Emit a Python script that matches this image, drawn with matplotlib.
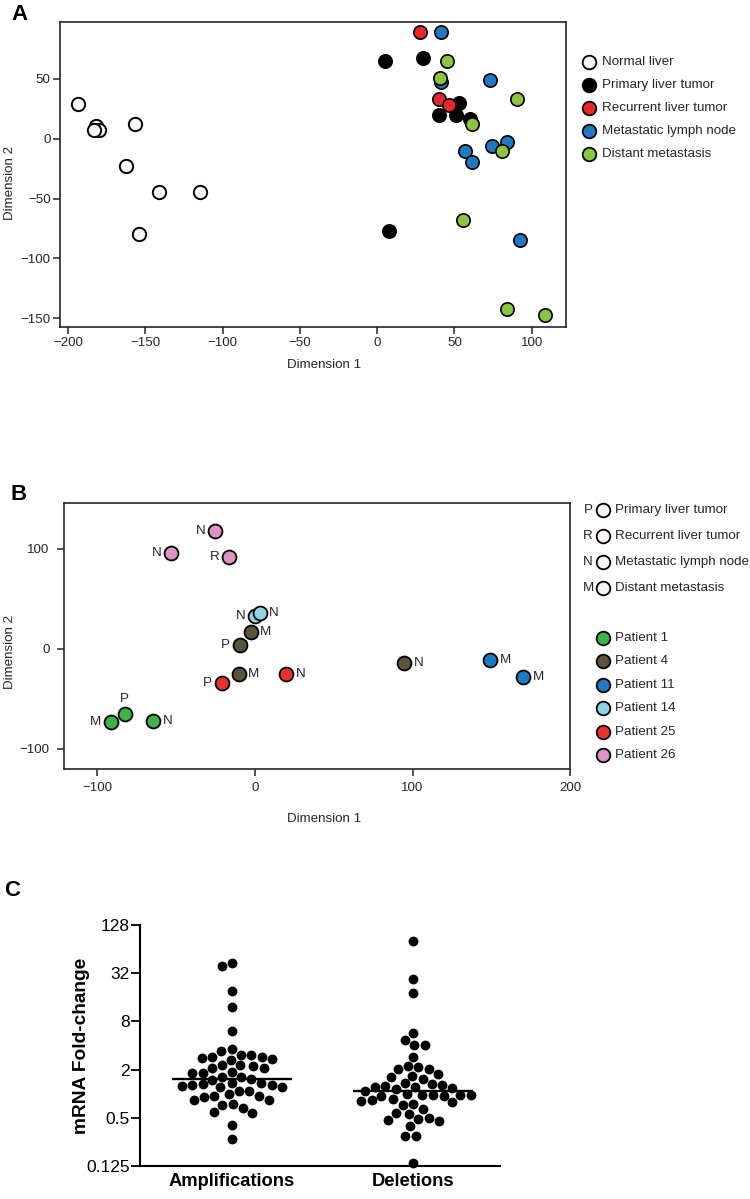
import numpy as np
import matplotlib
matplotlib.use("Agg")
import matplotlib.pyplot as plt
from matplotlib.lines import Line2D
from matplotlib.ticker import NullLocator

plt.rcParams['font.family'] = ['Liberation Sans', 'DejaVu Sans']

W, H = 750, 1199

# ---------------- Panel A data ----------------
a_groups = ["Normal liver", "Primary liver tumor", "Recurrent liver tumor",
            "Metastatic lymph node", "Distant metastasis"]
a_normal_x = [-193.4, -182.1, -179.8, -183.4, -156.8, -162.8, -141.3, -114.6, -154.4]
a_normal_y = [29.2, 10.3, 6.9, 6.9, 12.5, -22.8, -44.9, -44.9, -79.6]
a_primary_x = [5.2, 29.8, 52.9, 40.3, 50.8, 59.8, 7.9]
a_primary_y = [64.9, 67.0, 29.6, 20.0, 20.0, 16.0, -76.9]
a_recurrent_x = [27.5, 40.2, 46.4]
a_recurrent_y = [89.4, 33.4, 27.7]
a_lymph_x = [41.5, 41.1, 73.3, 84.1, 74.0, 57.0, 61.5, 92.5]
a_lymph_y = [89.1, 47.4, 49.0, -2.8, -5.8, -10.0, -19.8, -85.0]
a_distant_x = [45.4, 40.4, 90.3, 61.5, 80.9, 55.3, 84.1, 108.8]
a_distant_y = [64.9, 50.7, 33.4, 12.5, -10.3, -67.9, -142.0, -147.3]
a_xticks = [-200, -150, -100, -50, 0, 50, 100]
a_yticks = [-150, -100, -50, 0, 50]

# ---------------- Panel B data ----------------
b_type_letters = ["P", "R", "N", "M"]
b_type_names = ["Primary liver tumor", "Recurrent liver tumor",
                "Metastatic lymph node", "Distant metastasis"]
b_patients = ["Patient 1", "Patient 4", "Patient 11", "Patient 14", "Patient 25", "Patient 26"]
b_p1_x = [-82.5, -91.4, -64.6]
b_p1_y = [-65.1, -73.7, -72.1]
b_p1_lab = ["P", "M", "N"]
b_p4_x = [-9.6, -2.5, -10.1, 94.7]
b_p4_y = [3.3, 16.6, -25.4, -14.1]
b_p4_lab = ["P", "M", "M", "N"]
b_p11_x = [149.4, 170.3]
b_p11_y = [-11.4, -28.7]
b_p11_lab = ["M", "M"]
b_p14_x = [0.1, 3.2]
b_p14_y = [32.9, 35.3]
b_p14_lab = ["N", "N"]
b_p25_x = [-20.8, 20.0]
b_p25_y = [-34.7, -25.4]
b_p25_lab = ["P", "N"]
b_p26_x = [-25.3, -53.2, -16.2]
b_p26_y = [117.3, 95.6, 91.9]
b_p26_lab = ["N", "N", "R"]
b_xticks = [-100, 0, 100, 200]
b_yticks = [-100, 0, 100]

# ---------------- Panel C data ----------------
c_categories = ["Amplifications", "Deletions"]
c_amp = [43.3, 39.4, 19.2, 12.0, 6.12, 3.62, 3.07, 2.90, 2.79, 3.38, 3.02, 2.85,
         2.66, 2.74, 2.26, 2.24, 2.11, 1.83, 1.80, 1.88, 2.11, 2.26, 1.62, 1.50,
         1.51, 1.63, 1.35, 1.30, 1.24, 1.21, 1.22, 1.27, 1.31, 1.37, 1.09, 1.07,
         0.98, 0.94, 0.83, 0.83, 0.92, 0.94, 0.74, 0.72, 0.66, 0.57, 0.59, 0.41, 0.27]
c_del = [80.8, 26.9, 18.1, 5.78, 4.73, 4.02, 4.02, 2.90, 2.24, 2.05, 2.05, 2.14,
         1.76, 1.66, 1.53, 1.60, 1.31, 1.28, 1.35, 1.25, 1.22, 1.14, 1.17, 1.22,
         1.07, 0.98, 0.97, 0.955, 0.94, 0.944, 0.955, 0.97, 0.83, 0.78, 0.73, 0.74,
         0.81, 0.85, 0.64, 0.56, 0.48, 0.46, 0.47, 0.50, 0.58, 0.39, 0.30, 0.30, 0.138]
c_yticks = [0.125, 0.5, 2, 8, 32, 128]
c_yticklabels = ["0.125", "0.5", "2", "8", "32", "128"]

# ---------------- styles ----------------
a_colors = ["#fcf4f4", "#000000", "#e8262b", "#1f78c1", "#8cc63f"]
b_colors = ["#3bb54a", "#5a543e", "#1f7bc1", "#92d4e6", "#e8322a", "#dc94c4"]
b_label_side = [["top", "left", "right"], ["left", "right", "right", "right"],
                ["right", "right"], ["left", "right"], ["left", "right"],
                ["left", "left", "left"]]
INK = "#262626"
FS = 9.6

fig = plt.figure(figsize=(W / 100, H / 100), dpi=100)


def fbox(l, t, r, b):
    return [l / W, 1 - b / H, (r - l) / W, (b - t) / H]


def px2fig(x, y):
    return (x / W, 1 - y / H)


def style_box(ax, pad_x, pad_y):
    for s in ax.spines.values():
        s.set_linewidth(1.2)
        s.set_color(INK)
    ax.tick_params(direction='out', length=5, width=1.1, color=INK,
                   labelsize=FS, labelcolor=INK, top=False, right=False)
    ax.tick_params(axis='x', pad=pad_x)
    ax.tick_params(axis='y', pad=pad_y)


def legend_dot(x, y, color, ms=9.8, ew=1.3):
    fx, fy = px2fig(x, y)
    fig.add_artist(Line2D([fx], [fy], marker='o', markersize=ms, linestyle='none',
                          markerfacecolor=color, markeredgecolor='black',
                          markeredgewidth=ew, transform=fig.transFigure))


def legend_text(x, y, s, ha='left'):
    fx, fy = px2fig(x, y)
    fig.text(fx, fy, s, ha=ha, va='center', fontsize=FS, color=INK)


# ================= Panel A =================
axA = fig.add_axes(fbox(60.3, 21.7, 565.7, 327.3))
a_series = [(a_normal_x, a_normal_y, 0), (a_primary_x, a_primary_y, 1),
            (a_lymph_x, a_lymph_y, 3), (a_recurrent_x, a_recurrent_y, 2),
            (a_distant_x, a_distant_y, 4)]
for xs, ys, gi in a_series:
    axA.scatter(xs, ys, s=92, c=a_colors[gi], edgecolors='black',
                linewidths=1.4 if gi == 0 else 1.2, zorder=3 + gi)
axA.set_xlim(-205, 122)
axA.set_ylim(-157.5, 97.6)
axA.set_xticks(a_xticks)
axA.set_yticks(a_yticks)
style_box(axA, 2.0, 2.0)
axA.set_xlabel("Dimension 1", fontsize=FS, color=INK)
axA.set_ylabel("Dimension 2", fontsize=FS, color=INK)
axA.xaxis.set_label_coords(0.522, -0.105)
axA.yaxis.set_label_coords(-0.088, 0.472)

for i, name in enumerate(a_groups):
    y = 62 + i * 23
    legend_dot(589, y, a_colors[i])
    legend_text(601.5, y, name)

fig.text(*px2fig(11, 15), "A", fontsize=16, fontweight='bold', va='center', ha='left')

# ================= Panel B =================
axB = fig.add_axes(fbox(64, 503.3, 570.3, 768.7))
b_sets = [(b_p1_x, b_p1_y, b_p1_lab), (b_p4_x, b_p4_y, b_p4_lab),
          (b_p11_x, b_p11_y, b_p11_lab), (b_p14_x, b_p14_y, b_p14_lab),
          (b_p25_x, b_p25_y, b_p25_lab), (b_p26_x, b_p26_y, b_p26_lab)]
for pi, (xs, ys, labs) in enumerate(b_sets):
    for j, (x, y, lab) in enumerate(zip(xs, ys, labs)):
        axB.scatter([x], [y], s=100, c=b_colors[pi], edgecolors='black',
                    linewidths=1.3, zorder=3)
        side = b_label_side[pi][j]
        if side == 'left':
            off, ha, va = (-7.0, 0), 'right', 'center'
        elif side == 'right':
            off, ha, va = (6.8, 0), 'left', 'center'
        else:
            off, ha, va = (0, 10.8), 'center', 'center'
        axB.annotate(lab, (x, y), xytext=off, textcoords='offset points',
                     ha=ha, va=va, fontsize=FS, color=INK, zorder=4)
axB.set_xlim(-121, 200)
axB.set_ylim(-120.1, 145.3)
axB.set_xticks(b_xticks)
axB.set_yticks(b_yticks)
style_box(axB, 4.3, 5.5)
axB.set_xlabel("Dimension 1", fontsize=FS, color=INK)
axB.set_ylabel("Dimension 2", fontsize=FS, color=INK)
axB.xaxis.set_label_coords(0.514, -0.167)
axB.yaxis.set_label_coords(-0.094, 0.441)

for i, (let, name) in enumerate(zip(b_type_letters, b_type_names)):
    y = 510 + i * 26.1
    legend_text(588, y, let, ha='center')
    legend_dot(602.7, y, "#fcf4f4")
    legend_text(615, y, name)
for i, name in enumerate(b_patients):
    y = 638 + i * 23.4
    legend_dot(602.7, y, b_colors[i])
    legend_text(615, y, name)

fig.text(*px2fig(10, 494), "B", fontsize=16, fontweight='bold', va='center', ha='left')

# ================= Panel C =================
axC = fig.add_axes(fbox(140, 925, 500, 1166))
axC.set_yscale('log', base=2)
axC.set_ylim(0.125, 128)
axC.set_xlim(-0.505, 1.477)
axC.set_yticks(c_yticks)
axC.set_yticklabels(c_yticklabels)
axC.yaxis.set_minor_locator(NullLocator())
axC.set_xticks(range(len(c_categories)))
axC.set_xticklabels(c_categories, fontsize=13.2, fontweight='bold')
axC.spines['top'].set_visible(False)
axC.spines['right'].set_visible(False)
for s in ('left', 'bottom'):
    axC.spines[s].set_linewidth(1.5)
axC.tick_params(axis='y', direction='out', length=6.5, width=1.3, labelsize=12.5, pad=0.8)
axC.tick_params(axis='x', length=0, pad=5)
axC.set_ylabel("mRNA Fold-change", fontsize=13.8, fontweight='bold')
axC.yaxis.set_label_coords(-0.14, 0.5)


def swarm_x(ax, xc, vals, d_px):
    vals = np.asarray(vals, float)
    pts = ax.transData.transform(np.column_stack([np.full(len(vals), xc), vals]))
    ys = pts[:, 1]
    order = np.argsort(-ys, kind='stable')
    placed = []
    dxs = np.zeros(len(vals))
    for i in order:
        y = ys[i]
        neigh = [(px, py) for px, py in placed if abs(py - y) < d_px]
        cands = [0.0]
        for px, py in neigh:
            h = np.sqrt(d_px ** 2 - (py - y) ** 2)
            cands += [px + h, px - h]
        cands.sort(key=lambda c: (round(abs(c), 6), c > 0))
        chosen = cands[-1]
        for c in cands:
            if all((c - px) ** 2 + (y - py) ** 2 >= d_px ** 2 - 1e-6 for px, py in neigh):
                chosen = c
                break
        dxs[i] = chosen
        placed.append((chosen, y))
    x0 = pts[0, 0]
    back = ax.transData.inverted().transform(np.column_stack([x0 + dxs, ys]))
    return back[:, 0]


for ci, vals in enumerate([c_amp, c_del]):
    xs = swarm_x(axC, ci, vals, 10.6)
    axC.scatter(xs, vals, s=50, c='black', linewidths=0, zorder=3, clip_on=False)
    med = np.median(vals)
    axC.plot([ci - 0.33, ci + 0.33], [med, med], color='black', lw=1.7,
             solid_capstyle='butt', zorder=4)

fig.text(*px2fig(4, 890), "C", fontsize=16, fontweight='bold', va='center', ha='left')

fig.savefig("out.png", dpi=100)
